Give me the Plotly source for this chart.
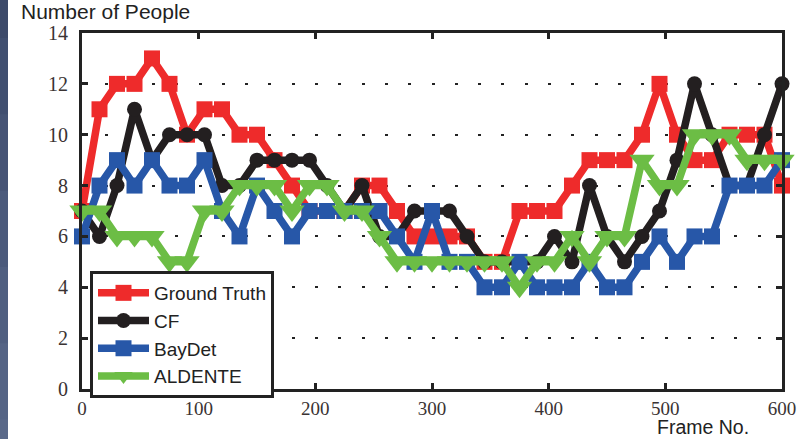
import plotly.graph_objects as go

frames = [0, 15, 30, 45, 60, 75, 90, 105, 120, 135, 150, 165, 180, 195, 210, 225, 240,
          255, 270, 285, 300, 315, 330, 345, 360, 375, 390, 405, 420, 435, 450, 465, 480,
          495, 510, 525, 540, 555, 570, 585, 600]

ground_truth = [7, 11, 12, 12, 13, 12, 10, 11, 11, 10, 10, 9, 8, 7, 7, 7, 8, 8, 7, 6, 6,
                6, 6, 5, 5, 7, 7, 7, 8, 9, 9, 9, 10, 12, 10, 9, 9, 10, 10, 10, 8]
cf = [7, 6, 8, 11, 9, 10, 10, 10, 8, 8, 9, 9, 9, 9, 8, 7, 8, 6, 6, 7, 7,
      7, 6, 5, 5, 5, 5, 6, 5, 8, 6, 5, 6, 7, 9, 12, 10, 8, 8, 10, 12]
baydet = [6, 8, 9, 8, 9, 8, 8, 9, 7, 6, 8, 7, 6, 7, 7, 7, 7, 7, 6, 5, 7,
          5, 5, 4, 4, 5, 4, 4, 4, 5, 4, 4, 5, 6, 5, 6, 6, 8, 8, 8, 9]
aldente = [7, 7, 6, 6, 6, 5, 5, 7, 7, 8, 8, 8, 7, 8, 8, 7, 7, 6, 5, 5, 5,
           5, 5, 5, 5, 4, 5, 5, 6, 5, 6, 6, 9, 8, 8, 10, 10, 10, 9, 9, 9]

x_ticks = [0, 100, 200, 300, 400, 500, 600]
y_ticks = [0, 2, 4, 6, 8, 10, 12, 14]

series = [
    ("Ground Truth", ground_truth, "#ee2b2b", "square", 16),
    ("CF", cf, "#231f20", "circle", 15),
    ("BayDet", baydet, "#2757a8", "square", 16),
    ("ALDENTE", aldente, "#6cbd45", "triangle-down", 22),
]

fig = go.Figure()
for name, vals, color, sym, size in series:
    fig.add_trace(go.Scatter(
        x=frames, y=vals, name=name, mode="lines+markers",
        line=dict(color=color, width=7.5),
        marker=dict(symbol=sym, size=size, color=color, line=dict(width=0)),
        cliponaxis=False,
    ))

axis_common = dict(
    showline=True, linewidth=3, linecolor="#222", mirror="ticks",
    ticks="inside", ticklen=6, tickwidth=2.5, tickcolor="#222",
    zeroline=False,
)

fig.update_xaxes(range=[0, 600], tickvals=x_ticks, showgrid=False,
                 ticklabelstandoff=0,
                 tickfont=dict(family="Liberation Serif", size=19, color="#3a3333"),
                 **axis_common)
fig.update_yaxes(range=[0, 14], tickvals=y_ticks, showgrid=True,
                 gridcolor="#222", gridwidth=2, griddash="3px,20.3px",
                 ticklabelstandoff=7,
                 tickfont=dict(family="Liberation Serif", size=20, color="#3a3333"),
                 **axis_common)

# dark strip on the left edge (scanned slide border), drawn as overlapping bands
strip_colors = ["#3d4a6a", "#414f70", "#465475", "#4b5a7b", "#505f80", "#556485", "#5a6989"]
n = len(strip_colors)
shapes = []
for i, c in enumerate(strip_colors):
    shapes.append(dict(type="rect", xref="paper", yref="paper",
                       x0=-0.2, x1=(8 - 82) / 700,
                       y0=-0.2, y1=1.2 - i * 1.5 / n,
                       fillcolor=c, line=dict(width=0), layer="below"))

fig.update_layout(
    width=810, height=439,
    margin=dict(l=82, r=28, t=33, b=50),
    paper_bgcolor="white", plot_bgcolor="white",
    shapes=shapes,
    showlegend=True,
    legend=dict(
        x=(90 - 82) / 700, y=(389 - 271) / 356, xanchor="left", yanchor="top",
        bgcolor="white", bordercolor="#222", borderwidth=3,
        font=dict(family="Liberation Sans", size=19, color="#222"),
        itemwidth=51, tracegroupgap=0,
    ),
    annotations=[
        dict(text="Number of People", xref="paper", yref="paper",
             x=(19 - 82) / 700, y=(389 - 11.8) / 356, xanchor="left", yanchor="middle",
             showarrow=False, font=dict(family="Liberation Sans", size=21, color="#222")),
        dict(text="Frame No.", xref="paper", yref="paper",
             x=(656 - 82) / 700, y=(389 - 438.8) / 356, xanchor="left", yanchor="bottom",
             showarrow=False, borderpad=0,
             font=dict(family="Liberation Sans", size=19.5, color="#222")),
    ],
)

fig.write_html("out.html")
